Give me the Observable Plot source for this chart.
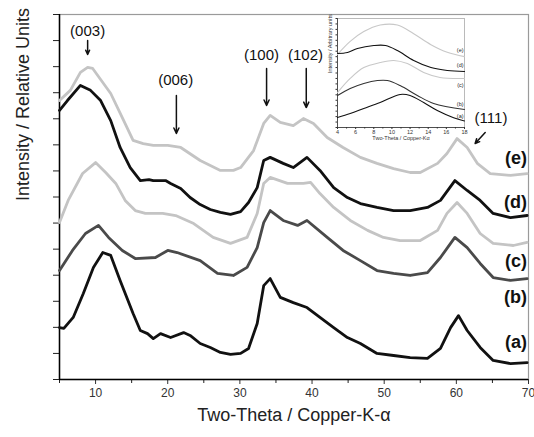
<!DOCTYPE html>
<html><head><meta charset="utf-8">
<script src="https://cdn.jsdelivr.net/npm/d3@7"></script>
<script src="https://cdn.jsdelivr.net/npm/@observablehq/plot@0.6"></script>
<style>
html,body{margin:0;padding:0;background:#fff;}
#wrap{position:relative;width:534px;height:437px;font-family:Arial,"Liberation Sans",sans-serif;}
#main{position:absolute;left:0;top:0;}
#inset{position:absolute;left:318px;top:12px;}
</style></head><body>
<div id="wrap"><div id="main"></div><div id="inset"></div></div>
<script>
// ---------- main chart data (2θ, relative intensity) ----------
const curveE = [[5.0,10.70],[6.5,11.09],[7.9,11.78],[8.9,11.97],[9.6,11.93],[12.1,10.97],[13.9,9.93],[15.2,9.17],[16.6,9.05],[18.0,8.98],[20.0,8.98],[21.8,8.90],[24.5,8.40],[27.3,8.02],[29.1,8.02],[30.1,8.13],[31.9,8.78],[33.3,9.82],[34.2,10.13],[35.6,9.86],[37.4,9.74],[38.8,10.01],[40.2,9.82],[42.1,9.28],[44.3,8.90],[46.7,8.52],[49.0,8.29],[51.3,8.09],[53.6,7.94],[55.0,7.94],[57.4,8.29],[58.7,8.67],[60.1,9.24],[61.5,8.90],[62.9,8.29],[64.7,7.90],[67.5,7.83],[69.8,7.90]];
const curveD = [[5.0,10.32],[6.1,10.70],[7.9,11.28],[9.3,11.09],[10.7,10.70],[12.1,9.93],[13.4,8.90],[14.8,8.13],[16.2,7.63],[17.4,7.67],[18.0,7.63],[19.7,7.63],[20.4,7.52],[21.8,7.33],[23.1,6.98],[24.5,6.71],[25.9,6.52],[27.3,6.41],[28.7,6.33],[30.1,6.44],[31.2,6.79],[32.4,7.36],[33.3,8.40],[34.2,8.52],[36.0,8.29],[37.4,8.13],[39.3,8.52],[41.1,8.02],[43.0,7.36],[44.9,6.98],[46.7,6.75],[49.0,6.60],[51.3,6.48],[53.6,6.48],[56.0,6.60],[57.8,6.87],[59.8,7.63],[61.5,7.25],[63.3,6.87],[65.1,6.37],[67.5,6.21],[69.8,6.29]];
const curveC = [[5.0,6.02],[6.2,6.87],[8.2,7.90],[10.0,8.32],[11.4,7.94],[12.8,7.52],[14.1,6.87],[15.5,6.48],[16.9,6.37],[19.3,6.37],[21.1,6.29],[23.6,5.98],[26.3,5.45],[28.7,5.22],[31.0,5.45],[32.4,6.37],[33.3,7.52],[34.2,7.75],[36.6,7.52],[38.8,7.52],[39.8,7.56],[41.1,7.13],[43.0,6.60],[45.3,6.10],[47.7,5.72],[49.9,5.45],[52.2,5.33],[55.0,5.33],[57.4,5.72],[58.7,6.37],[60.1,6.79],[61.5,6.37],[63.3,5.60],[65.1,5.22],[67.9,5.14],[69.8,5.26]];
const curveB = [[5.0,4.18],[6.8,4.95],[8.6,5.60],[10.4,5.91],[11.8,5.45],[13.7,4.95],[15.5,4.64],[18.3,4.68],[20.0,4.95],[21.3,4.87],[24.5,4.56],[26.9,4.07],[29.1,3.99],[31.0,4.30],[32.4,5.06],[33.3,6.02],[34.2,6.48],[36.0,6.10],[38.0,5.91],[39.3,6.10],[42.1,5.45],[44.3,4.95],[46.7,4.56],[49.0,4.18],[51.3,4.07],[53.6,3.99],[56.0,4.10],[57.8,4.68],[59.8,5.45],[61.5,5.06],[63.3,4.45],[65.1,3.91],[67.5,3.80],[69.8,3.87]];
const curveA = [[5.0,1.99],[5.6,1.96],[6.9,2.38],[8.3,3.30],[9.7,4.30],[11.0,4.87],[12.1,4.76],[13.4,3.80],[15.2,2.53],[16.2,1.88],[17.2,1.76],[18.0,1.57],[19.0,1.76],[20.4,1.61],[22.2,1.80],[23.1,1.69],[24.5,1.38],[25.9,1.23],[27.3,1.04],[28.7,0.96],[30.1,1.00],[31.2,1.19],[32.4,2.15],[33.3,3.60],[34.2,3.87],[35.6,3.15],[37.4,2.95],[39.3,2.76],[41.1,2.38],[43.0,1.99],[44.9,1.61],[46.7,1.38],[49.0,1.00],[51.3,0.92],[53.6,0.84],[56.0,0.81],[57.8,1.19],[59.2,1.99],[60.3,2.45],[61.5,1.88],[63.3,1.23],[65.1,0.73],[67.5,0.61],[69.8,0.65]];

const seriesKeys = ["e","d","c","b","a"];
const seriesColors = ["#c4c4c4","#111111","#c4c4c4","#4a4a4a","#111111"];
const seriesLabels = ["(e)","(d)","(c)","(b)","(a)"];
const labelY = [8.48, 6.79, 4.53, 3.15, 1.42];

const xTicks = [10,20,30,40,50,60,70];
const xMinorTicks = [5,15,25,35,45,55,65];
const yTicks = d3.range(0, 15);

// reflection annotations: label, text position, arrow start/end
const peakNames = ["(003)","(006)","(100)","(102)","(111)"];
const peakTextX = [8.9, 21.1, 33.0, 39.1, 64.8];
const peakTextY = [13.35, 11.47, 12.43, 12.43, 10.01];
const arrowX1 = [8.9, 21.2, 33.7, 39.2, 64.0];
const arrowY1 = [13.0, 10.89, 11.93, 11.93, 9.47];
const arrowX2 = [8.9, 21.2, 33.7, 39.2, 62.6];
const arrowY2 = [12.47, 9.44, 10.51, 10.43, 9.05];

// ---------- inset data ----------
const insetE = [[4,6.7],[5.4,7.9],[6.9,8.8],[8.7,9.4],[10.6,9.4],[12.4,8.6],[14.3,7.6],[16.1,6.9],[18,6.5]];
const insetD = [[4,6.79],[5.1,6.88],[6.2,7.25],[8.0,7.52],[9.3,7.52],[10.6,7.06],[12.4,6.15],[14.3,5.5],[16.1,5.23],[18,5.14]];
const insetC = [[4,3.2],[5.4,4.5],[6.9,5.5],[8.7,5.96],[10.2,6.15],[11.7,5.87],[13.5,5.05],[15.3,4.59],[18,4.5]];
const insetB = [[4,2.94],[5.4,3.58],[6.9,4.04],[8.4,4.31],[9.5,4.31],[10.9,3.85],[12.8,2.94],[14.6,2.2],[18,1.65]];
const insetA = [[4,0.92],[5.4,1.28],[6.9,1.74],[8.7,2.29],[10.9,3.03],[12.0,2.94],[13.5,2.29],[15.0,1.56],[16.8,0.9],[18,0.6]];
const insetColors = ["#c8c8c8","#111111","#c8c8c8","#333333","#111111"];
const insetLabelY = [7.06, 5.69, 3.85, 2.11, 1.0];
const insetXTicks = [4,6,8,10,12,14,16,18];
const insetXMinor = [5,7,9,11,13,15,17];
const insetYTicks = d3.range(0, 10.01, 0.5);

const font = "Arial, 'Liberation Sans', sans-serif";

const mainCurves = [curveE, curveD, curveC, curveB, curveA];
const lineMarks = mainCurves.map((c, i) =>
  Plot.line(c, {x: d => d[0], y: d => d[1], stroke: seriesColors[i], strokeWidth: 2.8, strokeLinejoin: "round"}));

const peaks = peakNames.map((n, i) => ({n, tx: peakTextX[i], ty: peakTextY[i], x1: arrowX1[i], y1: arrowY1[i], x2: arrowX2[i], y2: arrowY2[i]}));
const labels = seriesLabels.map((l, i) => ({l, y: labelY[i]}));

const main = Plot.plot({
  width: 534, height: 437,
  marginLeft: 59, marginRight: 6, marginTop: 14, marginBottom: 58,
  x: {domain: [5, 70]},
  y: {domain: [0, 14]},
  style: {fontFamily: font, background: "transparent", color: "#222"},
  marks: [
    Plot.frame({stroke: "#9a9a9a", strokeWidth: 1.2}),
    Plot.axisX({ticks: xTicks, tickSize: 5, tickPadding: 4, fontSize: 12, label: null, color: "#333"}),
    Plot.axisX({ticks: xMinorTicks, tickSize: 4, tickFormat: () => "", label: null}),
    Plot.axisY({ticks: yTicks, tickSize: 6, tickFormat: () => "", label: null}),
    Plot.ruleX([5], {stroke: "#000", strokeWidth: 1.5}),
    Plot.ruleY([0], {stroke: "#000", strokeWidth: 1.5}),
    ...lineMarks,
    Plot.text(["Two-Theta / Copper-K-α"], {frameAnchor: "bottom", dy: 41, fontSize: 18, fill: "#222"}),
    Plot.text(["Intensity / Relative Units"], {frameAnchor: "left", rotate: -90, dx: -36, dy: 4, fontSize: 18, fill: "#222"}),
    Plot.text(peaks, {x: "tx", y: "ty", text: "n", fontSize: 15, fill: "#111"}),
    Plot.arrow(peaks, {x1: "x1", y1: "y1", x2: "x2", y2: "y2", stroke: "#111", strokeWidth: 1.5, headLength: 6, headAngle: 50}),
    Plot.text(labels, {x: 69.8, y: "y", text: "l", textAnchor: "end", fontSize: 18, fontWeight: "bold", fill: "#111"})
  ]
});
document.getElementById("main").append(main);

const insetCurves = [insetE, insetD, insetC, insetB, insetA];
const insetLines = insetCurves.map((c, i) =>
  Plot.line(c, {x: d => d[0], y: d => d[1], stroke: insetColors[i], strokeWidth: 1.1, curve: "catmull-rom"}));
const insetLabels = seriesLabels.map((l, i) => ({l, y: insetLabelY[i]}));

const inset = Plot.plot({
  width: 150, height: 134,
  marginLeft: 19, marginRight: 4, marginTop: 6, marginBottom: 19,
  x: {domain: [4, 18]},
  y: {domain: [0, 10]},
  style: {fontFamily: font, background: "transparent", color: "#333"},
  marks: [
    Plot.frame({stroke: "#aaa", strokeWidth: 0.8, fill: "#fff"}),
    Plot.axisX({ticks: insetXTicks, tickSize: 2, tickPadding: 1, fontSize: 5.5, label: null}),
    Plot.axisX({ticks: insetXMinor, tickSize: 1.5, tickFormat: () => "", label: null}),
    Plot.axisY({ticks: insetYTicks, tickSize: 1.5, tickFormat: () => "", label: null}),
    Plot.ruleX([4], {stroke: "#333", strokeWidth: 0.8}),
    Plot.ruleY([0], {stroke: "#333", strokeWidth: 0.8}),
    ...insetLines,
    Plot.text(insetLabels, {x: 17.9, y: "y", text: "l", textAnchor: "end", fontSize: 5.5, fill: "#222"}),
    Plot.text(["Two-Theta / Copper-Kα"], {frameAnchor: "bottom", dy: 12.5, fontSize: 5.5, fill: "#333"}),
    Plot.text(["Intensity / Arbitrary units"], {frameAnchor: "left", rotate: -90, dx: -7, fontSize: 5.5, fill: "#333"})
  ]
});
document.getElementById("inset").append(inset);
</script>
</body></html>
